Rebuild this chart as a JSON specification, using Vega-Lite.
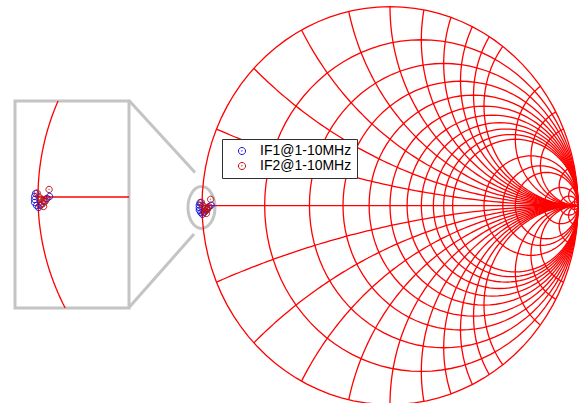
{
  "$schema": "https://vega.github.io/schema/vega-lite/v6.json",
  "width": 585,
  "height": 403,
  "autosize": "none",
  "padding": 0,
  "background": "white",
  "config": {"view": {"stroke": null}, "font": "Liberation Sans"},
  "datasets": {
    "grid": [
      {"family": "r", "v": 0, "lim": 1e9},
      {"family": "r", "v": 0.2, "lim": 1e9},
      {"family": "r", "v": 0.4, "lim": 1e9},
      {"family": "r", "v": 0.6, "lim": 1e9},
      {"family": "r", "v": 0.8, "lim": 1e9},
      {"family": "r", "v": 1.0, "lim": 1e9},
      {"family": "r", "v": 1.2, "lim": 1e9},
      {"family": "r", "v": 1.4, "lim": 1e9},
      {"family": "r", "v": 1.6, "lim": 1e9},
      {"family": "r", "v": 1.8, "lim": 1e9},
      {"family": "r", "v": 2, "lim": 1e9},
      {"family": "r", "v": 3, "lim": 1e9},
      {"family": "r", "v": 4, "lim": 1e9},
      {"family": "r", "v": 5, "lim": 1e9},
      {"family": "r", "v": 10, "lim": 1e9},
      {"family": "r", "v": 20, "lim": 1e9},
      {"family": "r", "v": 50, "lim": 1e9},
      {"family": "x", "v": 0.2, "lim": 1e9},
      {"family": "x", "v": -0.2, "lim": 1e9},
      {"family": "x", "v": 0.4, "lim": 1e9},
      {"family": "x", "v": -0.4, "lim": 1e9},
      {"family": "x", "v": 0.6, "lim": 1e9},
      {"family": "x", "v": -0.6, "lim": 1e9},
      {"family": "x", "v": 0.8, "lim": 1e9},
      {"family": "x", "v": -0.8, "lim": 1e9},
      {"family": "x", "v": 1.0, "lim": 1e9},
      {"family": "x", "v": -1.0, "lim": 1e9},
      {"family": "x", "v": 1.2, "lim": 1e9},
      {"family": "x", "v": -1.2, "lim": 1e9},
      {"family": "x", "v": 1.4, "lim": 1e9},
      {"family": "x", "v": -1.4, "lim": 1e9},
      {"family": "x", "v": 1.6, "lim": 1e9},
      {"family": "x", "v": -1.6, "lim": 1e9},
      {"family": "x", "v": 1.8, "lim": 1e9},
      {"family": "x", "v": -1.8, "lim": 1e9},
      {"family": "x", "v": 2, "lim": 1e9},
      {"family": "x", "v": -2, "lim": 1e9},
      {"family": "x", "v": 3, "lim": 1e9},
      {"family": "x", "v": -3, "lim": 1e9},
      {"family": "x", "v": 4, "lim": 1e9},
      {"family": "x", "v": -4, "lim": 1e9},
      {"family": "x", "v": 5, "lim": 1e9},
      {"family": "x", "v": -5, "lim": 1e9},
      {"family": "x", "v": 10, "lim": 1e9},
      {"family": "x", "v": -10, "lim": 1e9},
      {"family": "x", "v": 20, "lim": 1e9},
      {"family": "x", "v": -20, "lim": 1e9},
      {"family": "x", "v": 50, "lim": 1e9},
      {"family": "x", "v": -50, "lim": 1e9}
    ],
    "insetGrid": [{"v": 0, "lo": -0.2451, "hi": 0.2087}],
    "axisLine": [{"x1": -1, "x2": 1, "y0": 0}],
    "insetAxis": [{"x1": -1, "x2": -0.6208, "y0": 0}],
    "insetFrame": [{"x1": -1.0958, "x2": -0.6208, "y1": -0.4625, "y2": 0.4}],
    "zoomLens": [{"cx": -1.0027, "cy": -0.0095}],
    "connectors": [
      {"x1": -1.3883, "y1": 0.5281, "x2": -1.0372, "y2": 0.1663},
      {"x1": -1.3883, "y1": -0.5121, "x2": -1.0426, "y2": -0.1427}
    ],
    "points": [
      {"series": "IF1@1-10MHz", "f": 1, "re": -1.0101, "im": 0.0146},
      {"series": "IF1@1-10MHz", "f": 2, "re": -1.0143, "im": 0.0021},
      {"series": "IF1@1-10MHz", "f": 3, "re": -1.0143, "im": -0.0104},
      {"series": "IF1@1-10MHz", "f": 4, "re": -1.0143, "im": -0.0229},
      {"series": "IF1@1-10MHz", "f": 5, "re": -1.0059, "im": -0.0354},
      {"series": "IF1@1-10MHz", "f": 6, "re": -0.9976, "im": -0.0438},
      {"series": "IF1@1-10MHz", "f": 7, "re": -0.9872, "im": -0.0333},
      {"series": "IF1@1-10MHz", "f": 8, "re": -0.9747, "im": -0.0188},
      {"series": "IF1@1-10MHz", "f": 9, "re": -0.9622, "im": -0.0063},
      {"series": "IF1@1-10MHz", "f": 10, "re": -0.9518, "im": 0.0021},
      {"series": "IF2@1-10MHz", "f": 1, "re": -1.0038, "im": 0.0167},
      {"series": "IF2@1-10MHz", "f": 2, "re": -0.9955, "im": 0.0},
      {"series": "IF2@1-10MHz", "f": 3, "re": -0.9872, "im": -0.0083},
      {"series": "IF2@1-10MHz", "f": 4, "re": -0.9788, "im": -0.0146},
      {"series": "IF2@1-10MHz", "f": 5, "re": -0.9705, "im": -0.0188},
      {"series": "IF2@1-10MHz", "f": 6, "re": -0.9809, "im": -0.0271},
      {"series": "IF2@1-10MHz", "f": 7, "re": -0.9913, "im": -0.0354},
      {"series": "IF2@1-10MHz", "f": 8, "re": -0.9768, "im": -0.0396},
      {"series": "IF2@1-10MHz", "f": 9, "re": -0.9663, "im": -0.0083},
      {"series": "IF2@1-10MHz", "f": 10, "re": -0.9538, "im": 0.0313}
    ]
  },
  "layer": [
    {
      "data": {"name": "insetFrame"},
      "mark": {"type": "rect", "fill": "white", "stroke": "#c4c4c4", "strokeWidth": 3},
      "encoding": {
        "x": {"field": "x1", "type": "quantitative", "axis": null, "scale": {"domain": [-1.158333, 1.279167], "nice": false, "zero": false}},
        "x2": {"field": "x2"},
        "y": {"field": "y1", "type": "quantitative", "axis": null, "scale": {"domain": [-0.858333, 0.820833], "nice": false, "zero": false}},
        "y2": {"field": "y2"}
      }
    },
    {
      "data": {"name": "connectors"},
      "mark": {"type": "rule", "stroke": "#c4c4c4", "strokeWidth": 3},
      "encoding": {
        "x": {"field": "x1", "type": "quantitative", "axis": null, "scale": {"domain": [-2.074468, 1.037234], "nice": false, "zero": false}},
        "x2": {"field": "x2"},
        "y": {"field": "y1", "type": "quantitative", "axis": null, "scale": {"domain": [-0.99196, 1.033166], "nice": false, "zero": false}},
        "y2": {"field": "y2"}
      }
    },
    {
      "data": {"name": "zoomLens"},
      "mark": {"type": "point", "shape": "M0,-1.55A1,1.55,0,1,0,0,1.55A1,1.55,0,1,0,0,-1.55Z", "filled": false, "size": 729, "stroke": "#c4c4c4", "strokeWidth": 3, "opacity": 1},
      "encoding": {
        "x": {"field": "cx", "type": "quantitative", "axis": null, "scale": {"domain": [-2.074468, 1.037234], "nice": false, "zero": false}},
        "y": {"field": "cy", "type": "quantitative", "axis": null, "scale": {"domain": [-0.99196, 1.033166], "nice": false, "zero": false}}
      }
    },
    {
      "data": {"name": "grid"},
      "transform": [
        {"calculate": "datum.family + datum.v", "as": "gid"},
        {"calculate": "datum.family === 'r' ? datum.v / (1 + datum.v) : 1", "as": "cx"},
        {"calculate": "datum.family === 'r' ? 0 : 1 / datum.v", "as": "cy"},
        {"calculate": "datum.family === 'r' ? 1 / (1 + datum.v) : 1 / abs(datum.v)", "as": "rad"},
        {"calculate": "datum.family === 'r' ? PI - 2 * atan(datum.lim / (1 + datum.v)) : (datum.v > 0 ? -1 : 1) * PI / 2 - 2 * atan(datum.v)", "as": "a0"},
        {"calculate": "datum.family === 'r' ? PI + 2 * atan(datum.lim / (1 + datum.v)) : (datum.v > 0 ? -1 : 1) * PI / 2 - 2 * atan(datum.v / (datum.lim + 1))", "as": "a1"},
        {"calculate": "sequence(0, 97)", "as": "k"},
        {"flatten": ["k"]},
        {"calculate": "datum.a0 + (datum.a1 - datum.a0) * datum.k / 96", "as": "ang"},
        {"calculate": "datum.cx + datum.rad * cos(datum.ang)", "as": "gx"},
        {"calculate": "datum.cy + datum.rad * sin(datum.ang)", "as": "gy"}
      ],
      "mark": {"type": "line", "color": "#ff0000", "strokeWidth": 1.3},
      "encoding": {
        "x": {"field": "gx", "type": "quantitative", "axis": null, "scale": {"domain": [-2.074468, 1.037234], "nice": false, "zero": false}},
        "y": {"field": "gy", "type": "quantitative", "axis": null, "scale": {"domain": [-0.99196, 1.033166], "nice": false, "zero": false}},
        "detail": {"field": "gid", "type": "nominal"},
        "order": {"field": "k", "type": "quantitative"}
      }
    },
    {
      "data": {"name": "axisLine"},
      "mark": {"type": "rule", "stroke": "#ff0000", "strokeWidth": 1.3},
      "encoding": {
        "x": {"field": "x1", "type": "quantitative", "axis": null, "scale": {"domain": [-2.074468, 1.037234], "nice": false, "zero": false}},
        "x2": {"field": "x2"},
        "y": {"field": "y0", "type": "quantitative", "axis": null, "scale": {"domain": [-0.99196, 1.033166], "nice": false, "zero": false}}
      }
    },
    {
      "data": {"name": "insetGrid"},
      "transform": [
        {"calculate": "PI - 2 * atan(datum.hi / (1 + datum.v))", "as": "a0"},
        {"calculate": "PI - 2 * atan(datum.lo / (1 + datum.v))", "as": "a1"},
        {"calculate": "sequence(0, 41)", "as": "k"},
        {"flatten": ["k"]},
        {"calculate": "datum.a0 + (datum.a1 - datum.a0) * datum.k / 40", "as": "ang"},
        {"calculate": "datum.v / (1 + datum.v) + cos(datum.ang) / (1 + datum.v)", "as": "gx"},
        {"calculate": "sin(datum.ang) / (1 + datum.v)", "as": "gy"}
      ],
      "mark": {"type": "line", "color": "#ff0000", "strokeWidth": 1.3},
      "encoding": {
        "x": {"field": "gx", "type": "quantitative", "axis": null, "scale": {"domain": [-1.158333, 1.279167], "nice": false, "zero": false}},
        "y": {"field": "gy", "type": "quantitative", "axis": null, "scale": {"domain": [-0.858333, 0.820833], "nice": false, "zero": false}},
        "order": {"field": "k", "type": "quantitative"}
      }
    },
    {
      "data": {"name": "insetAxis"},
      "mark": {"type": "rule", "stroke": "#ff0000", "strokeWidth": 1.3},
      "encoding": {
        "x": {"field": "x1", "type": "quantitative", "axis": null, "scale": {"domain": [-1.158333, 1.279167], "nice": false, "zero": false}},
        "x2": {"field": "x2"},
        "y": {"field": "y0", "type": "quantitative", "axis": null, "scale": {"domain": [-0.858333, 0.820833], "nice": false, "zero": false}}
      }
    },
    {
      "data": {"name": "points"},
      "mark": {"type": "point", "shape": "M-1,0A1,1,0,1,0,1,0A1,1,0,1,0,-1,0M-0.1,0A0.1,0.1,0,1,0,0.1,0A0.1,0.1,0,1,0,-0.1,0", "filled": false, "size": 40, "strokeWidth": 1, "opacity": 1},
      "encoding": {
        "x": {"field": "re", "type": "quantitative", "axis": null, "scale": {"domain": [-2.074468, 1.037234], "nice": false, "zero": false}},
        "y": {"field": "im", "type": "quantitative", "axis": null, "scale": {"domain": [-0.99196, 1.033166], "nice": false, "zero": false}},
        "color": {
          "field": "series", "type": "nominal",
          "scale": {"domain": ["IF1@1-10MHz", "IF2@1-10MHz"], "range": ["#1414e0", "#c41010"]},
          "legend": {
            "title": null, "orient": "none", "legendX": 222, "legendY": 139,
            "strokeColor": "#303030", "fillColor": "white", "padding": 5,
            "symbolType": "M-1,0A1,1,0,1,0,1,0A1,1,0,1,0,-1,0M-0.1,0A0.1,0.1,0,1,0,0.1,0A0.1,0.1,0,1,0,-0.1,0",
            "symbolSize": 50, "symbolStrokeWidth": 1, "symbolOffset": 8,
            "labelFontSize": 14, "labelFont": "Liberation Sans", "labelColor": "#000000",
            "labelOffset": 11, "rowPadding": 1
          }
        }
      }
    },
    {
      "data": {"name": "points"},
      "mark": {"type": "point", "shape": "M-1,0A1,1,0,1,0,1,0A1,1,0,1,0,-1,0M-0.1,0A0.1,0.1,0,1,0,0.1,0A0.1,0.1,0,1,0,-0.1,0", "filled": false, "size": 40, "strokeWidth": 1, "opacity": 1},
      "encoding": {
        "x": {"field": "re", "type": "quantitative", "axis": null, "scale": {"domain": [-1.158333, 1.279167], "nice": false, "zero": false}},
        "y": {"field": "im", "type": "quantitative", "axis": null, "scale": {"domain": [-0.858333, 0.820833], "nice": false, "zero": false}},
        "color": {"field": "series", "type": "nominal", "legend": null}
      }
    }
  ],
  "resolve": {"scale": {"x": "independent", "y": "independent"}}
}
